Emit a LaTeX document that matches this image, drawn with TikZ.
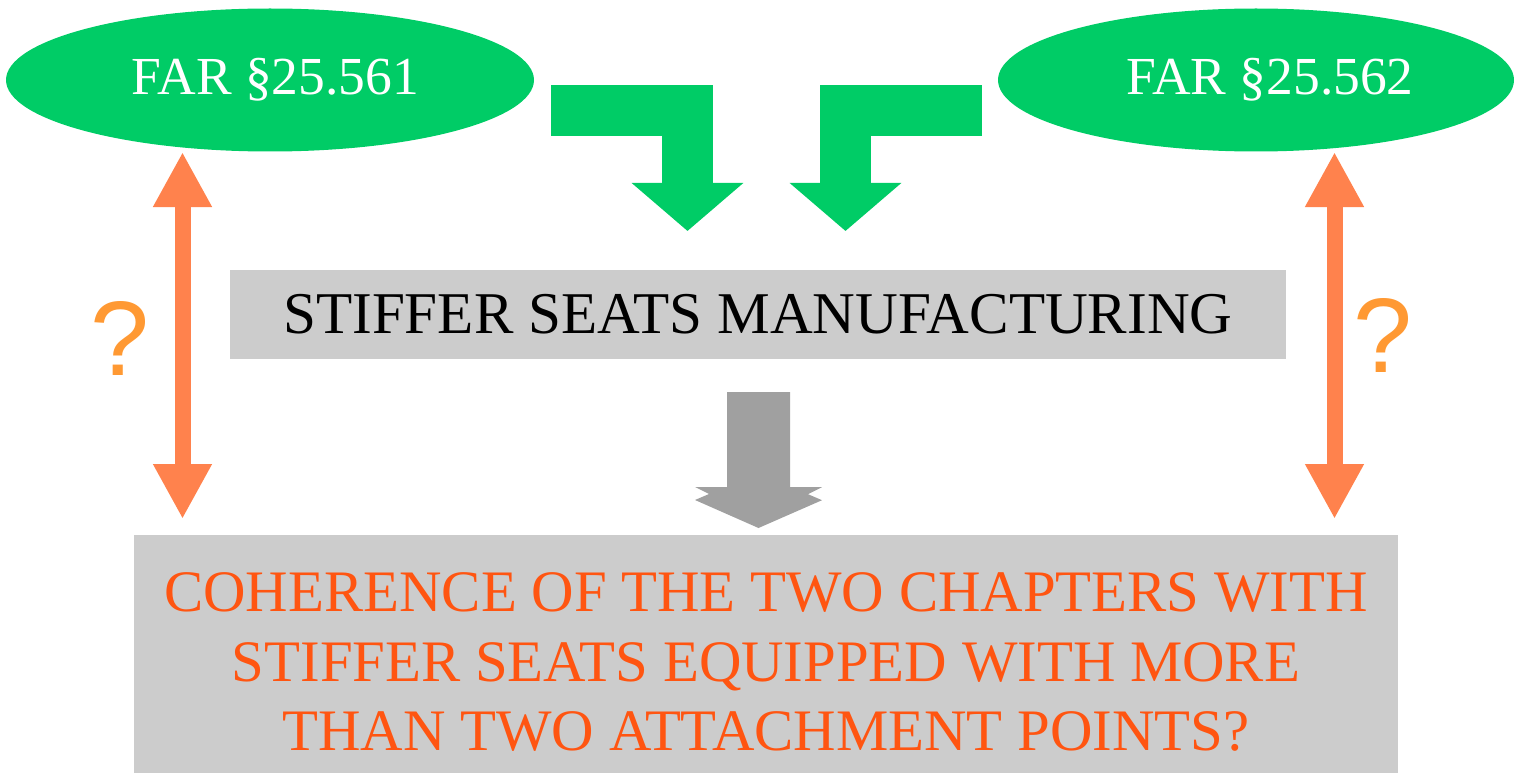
\documentclass[tikz,border=0pt]{standalone}
\usepackage{fontspec}
\setmainfont{Liberation Serif}
\newfontfamily\qmarkfont{Liberation Sans}
\usetikzlibrary{shapes.geometric,arrows.meta,calc}
\definecolor{fargreen}{HTML}{00CC66}
\definecolor{boxgray}{HTML}{CCCCCC}
\definecolor{arrowgray}{HTML}{A0A0A0}
\definecolor{linkorange}{HTML}{FF824D}
\definecolor{qorange}{HTML}{FF9933}
\definecolor{textorange}{HTML}{FF5511}
\tikzset{
  farell/.style={ellipse, fill=fargreen, text=white, inner sep=0pt,
    minimum height=143pt, font=\fontsize{53.5}{63}\selectfont},
  graybox/.style={rectangle, fill=boxgray, inner sep=0pt},
  feedarrow/.style={draw=fargreen, line width=51pt, line cap=butt, line join=miter,
    -{Triangle[width=109pt,length=48pt]}},
  linkarrow/.style={draw=linkorange, line width=16pt,
    {Triangle[width=55pt,length=55pt]}-{Triangle[width=55pt,length=55pt]}},
  qmark/.style={text=qorange, inner sep=0pt, font=\qmarkfont\fontsize{106}{110}\selectfont},
}
\begin{document}
\begin{tikzpicture}[x=1pt,y=-1pt]
\useasboundingbox (0,0) rectangle (1524,773);

% regulation ellipses
\node[farell, minimum width=528pt] (fL) at (270,80) {\hspace*{11pt}FAR §25.561};
\node[farell, minimum width=516pt] (fR) at (1256,80) {\hspace*{28pt}FAR §25.562};

% design box
\node[graybox, minimum width=1056pt, minimum height=89pt,
      font=\fontsize{59.2}{69}\selectfont] (s) at (758,314.5) {STIFFER SEATS MANUFACTURING};

% question box
\node[graybox, minimum width=1264pt, minimum height=238pt] (c) at (766,654) {};
\node[text=textorange, align=center, inner sep=0pt,
      font=\fontsize{58.8}{69.5}\selectfont] (ct) at ($(c.center)+(0,8)$)
  {COHERENCE OF THE TWO CHAPTERS WITH\\
   STIFFER SEATS EQUIPPED WITH MORE\\
   THAN TWO ATTACHMENT POINTS?};

% bent green arrows from the regulations to the design
\coordinate (gL0) at (551,111);
\coordinate (gL1) at (687.5,231);
\coordinate (gR0) at (982,111);
\coordinate (gR1) at (845.5,231);
\draw[feedarrow] (gL0) -| (gL1);
\draw[feedarrow] (gR0) -| (gR1);

% gray block arrow from the design to the question
\coordinate (gs) at ($(s.south)+(0.5,33)$);
\coordinate (ge) at (758.5,528);
\fill[arrowgray] (gs) ++(-31.5,0) -- ++(63,0) -- ++(0,95) -- ++(32,0)
  -- ++(-14,7) -- ++(14,6) -- (ge) -- ++(-63.5,-28) -- ++(14,-6)
  -- ++(-14,-7) -- ++(32,0) -- cycle;

% orange double arrows linking each regulation to the question
\coordinate (lT) at (182.5,152);
\coordinate (lB) at (182.5,519);
\coordinate (rT) at (1334.5,152);
\coordinate (rB) at (1334.5,519);
\draw[linkarrow] (lT) -- (lB);
\draw[linkarrow] (rT) -- (rB);

\node[qmark] (qL) at (120,338) {?};
\node[qmark] (qR) at (1383,335) {?};
\end{tikzpicture}
\end{document}
